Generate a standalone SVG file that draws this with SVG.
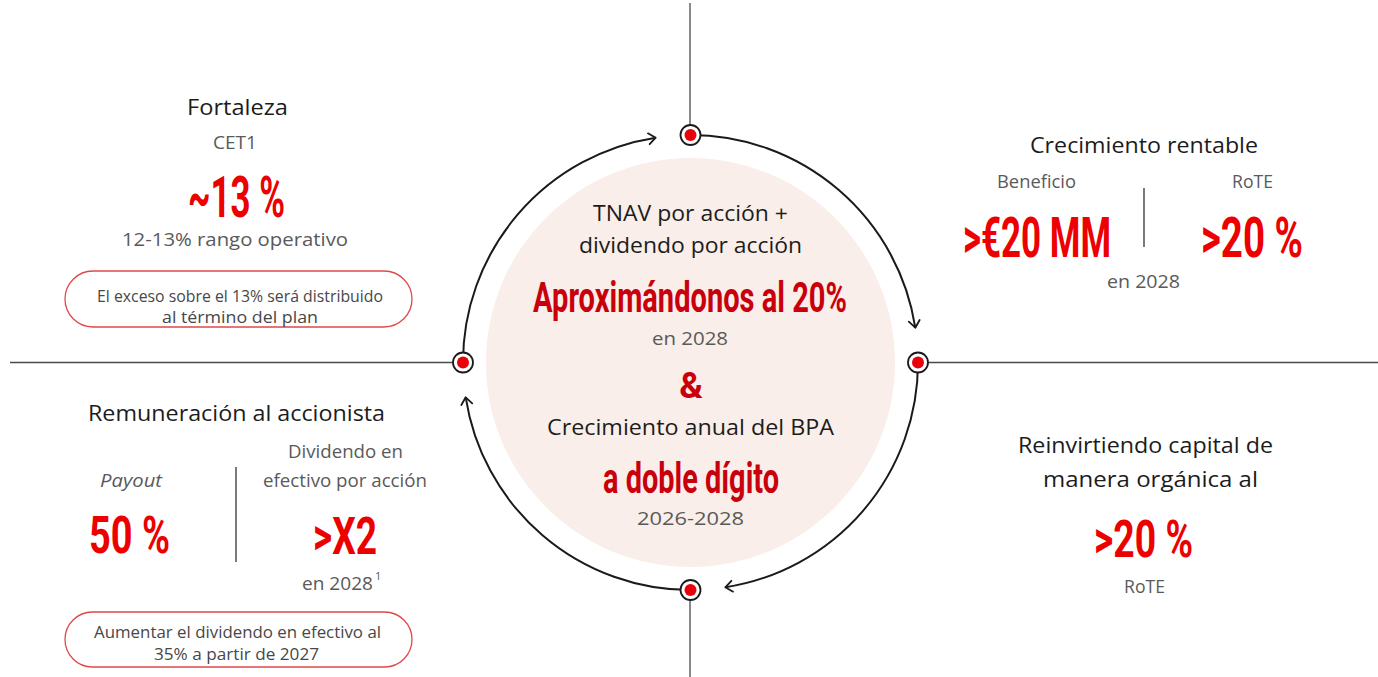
<svg xmlns="http://www.w3.org/2000/svg" width="1378" height="677" viewBox="0 0 1378 677">
  <defs>
    <style>
      .t { font-family: "Open Sans", "Noto Sans", sans-serif; }
      .h { font-size: 22px; fill: #1c1c1c; }
      .s { font-size: 17.5px; fill: #5a5a5a; }
      .p { font-size: 16.5px; fill: #474747; }
      .big { font-family: Roboto, "Liberation Sans", sans-serif; font-weight: 700; fill: #ec0000; }
      .cbig { fill: #c9000c; }
      .axis { stroke: #4a4a4a; stroke-width: 1.3; fill: none; }
      .arc { stroke: #1a1a1a; stroke-width: 2; fill: none; marker-end: url(#chev); }
      .pill { fill: none; stroke: #e04848; stroke-width: 1.3; }
      .div { stroke: #333; stroke-width: 1.3; }
      .ring { fill: #fff; stroke: #1a1a1a; stroke-width: 1.8; }
      .dot { fill: #e8000a; }
    </style>
    <marker id="chev" markerUnits="userSpaceOnUse" markerWidth="20" markerHeight="20" refX="0" refY="0" viewBox="-10 -10 20 20" orient="auto" overflow="visible">
      <path d="M -7 -5.5 L 0 0 L -7 5.5" fill="none" stroke="#1a1a1a" stroke-width="1.8" stroke-linecap="round" stroke-linejoin="round"/>
    </marker>
  </defs>

  <rect width="1378" height="677" fill="#ffffff"/>

  <!-- central disc -->
  <circle cx="690.5" cy="362.5" r="204.5" fill="#f9eee9"/>

  <g id="connectors">
    <!-- quadrant axes -->
    <line class="axis" x1="690" y1="3" x2="690" y2="125"/>
    <line class="axis" x1="690" y1="600" x2="690" y2="677"/>
    <line class="axis" x1="10" y1="362.5" x2="453" y2="362.5"/>
    <line class="axis" x1="928" y1="362.5" x2="1378" y2="362.5"/>
    <!-- clockwise cycle arcs, centre (690.5,362.5) r 227.5 -->
    <path class="arc" d="M 690.5 135 A 227.5 227.5 0 0 1 915.3 327.7"/>
    <path class="arc" d="M 918 362.5 A 227.5 227.5 0 0 1 725.3 587.3"/>
    <path class="arc" d="M 690.5 590 A 227.5 227.5 0 0 1 465.7 397.3"/>
    <path class="arc" d="M 463 362.5 A 227.5 227.5 0 0 1 655.7 137.7"/>
    <!-- hubs -->
    <circle class="ring" cx="690.5" cy="135" r="10"/>
    <circle class="dot" cx="690.5" cy="135" r="6"/>
    <circle class="ring" cx="918" cy="362.5" r="10"/>
    <circle class="dot" cx="918" cy="362.5" r="6"/>
    <circle class="ring" cx="690.5" cy="590" r="10"/>
    <circle class="dot" cx="690.5" cy="590" r="6"/>
    <circle class="ring" cx="463" cy="362.5" r="10"/>
    <circle class="dot" cx="463" cy="362.5" r="6"/>
  </g>

  <g id="centro">
    <text class="t h" x="593" y="221" font-size="21" textLength="195" lengthAdjust="spacingAndGlyphs" style="font-size:21px">TNAV por acción +</text>
    <text class="t h" x="579" y="253" textLength="223" lengthAdjust="spacingAndGlyphs" style="font-size:21px">dividendo por acción</text>
    <text class="big cbig" x="533" y="312" font-size="42" textLength="314" lengthAdjust="spacingAndGlyphs">Aproximándonos al 20%</text>
    <text class="t s" x="652" y="345" textLength="76" lengthAdjust="spacingAndGlyphs" style="font-size:18px">en 2028</text>
    <text class="big cbig" x="691" y="398" font-size="36" text-anchor="middle">&amp;</text>
    <text class="t h" x="547" y="435" textLength="287" lengthAdjust="spacingAndGlyphs" style="font-size:21px">Crecimiento anual del BPA</text>
    <text class="big cbig" x="603" y="493" font-size="42" textLength="176" lengthAdjust="spacingAndGlyphs">a doble dígito</text>
    <text class="t s" x="637" y="525" textLength="107" lengthAdjust="spacingAndGlyphs" style="font-size:18px">2026-2028</text>
  </g>

  <g id="fortaleza">
    <text class="t h" x="187" y="115" textLength="101" lengthAdjust="spacingAndGlyphs">Fortaleza</text>
    <text class="t s" x="213" y="149" textLength="44" lengthAdjust="spacingAndGlyphs">CET1</text>
    <text class="big" x="188" y="217" font-size="58" textLength="97" lengthAdjust="spacingAndGlyphs">~13 %</text>
    <text class="t s" x="122" y="246" textLength="226" lengthAdjust="spacingAndGlyphs" style="font-size:18px">12-13% rango operativo</text>
    <rect class="pill" x="65" y="271" width="347" height="56" rx="28"/>
    <text class="t p" x="97" y="302" textLength="286" lengthAdjust="spacingAndGlyphs">El exceso sobre el 13% será distribuido</text>
    <text class="t p" x="162" y="323" textLength="156" lengthAdjust="spacingAndGlyphs">al término del plan</text>
  </g>

  <g id="crecimiento-rentable">
    <text class="t h" x="1030" y="153" textLength="228" lengthAdjust="spacingAndGlyphs">Crecimiento rentable</text>
    <text class="t s" x="997" y="188" textLength="79" lengthAdjust="spacingAndGlyphs">Beneficio</text>
    <text class="t s" x="1232" y="188" textLength="41" lengthAdjust="spacingAndGlyphs">RoTE</text>
    <line class="div" x1="1144" y1="188" x2="1144" y2="247"/>
    <text class="big" x="963" y="257" font-size="56" textLength="148" lengthAdjust="spacingAndGlyphs">&gt;€20 MM</text>
    <text class="big" x="1201" y="257" font-size="56" textLength="102" lengthAdjust="spacingAndGlyphs">&gt;20 %</text>
    <text class="t s" x="1107" y="288" textLength="73" lengthAdjust="spacingAndGlyphs" style="font-size:18px">en 2028</text>
  </g>

  <g id="remuneracion">
    <text class="t h" x="88" y="421" textLength="297" lengthAdjust="spacingAndGlyphs">Remuneración al accionista</text>
    <text class="t s" x="288" y="458" textLength="115" lengthAdjust="spacingAndGlyphs">Dividendo en</text>
    <text class="t s" x="263" y="487" textLength="164" lengthAdjust="spacingAndGlyphs">efectivo por acción</text>
    <text class="t s" x="100" y="487" font-style="italic" textLength="62" lengthAdjust="spacingAndGlyphs">Payout</text>
    <line class="div" x1="236" y1="467" x2="236" y2="562"/>
    <text class="big" x="89" y="553" font-size="52" textLength="81" lengthAdjust="spacingAndGlyphs">50 %</text>
    <text class="big" x="313" y="554" font-size="52" textLength="64" lengthAdjust="spacingAndGlyphs">&gt;X2</text>
    <text class="t s" x="302" y="590" textLength="71" lengthAdjust="spacingAndGlyphs" style="font-size:18px">en 2028</text>
    <text class="t s" x="375" y="580" style="font-size:11px">1</text>
    <rect class="pill" x="65" y="612" width="347" height="55" rx="27.5"/>
    <text class="t p" x="94" y="638" textLength="287" lengthAdjust="spacingAndGlyphs">Aumentar el dividendo en efectivo al</text>
    <text class="t p" x="154" y="660" textLength="165" lengthAdjust="spacingAndGlyphs">35% a partir de 2027</text>
  </g>

  <g id="reinversion">
    <text class="t h" x="1018" y="453" textLength="255" lengthAdjust="spacingAndGlyphs">Reinvirtiendo capital de</text>
    <text class="t h" x="1043" y="487" textLength="215" lengthAdjust="spacingAndGlyphs">manera orgánica al</text>
    <text class="big" x="1094" y="557" font-size="52" textLength="99" lengthAdjust="spacingAndGlyphs">&gt;20 %</text>
    <text class="t s" x="1124" y="593" textLength="41" lengthAdjust="spacingAndGlyphs">RoTE</text>
  </g>
</svg>
